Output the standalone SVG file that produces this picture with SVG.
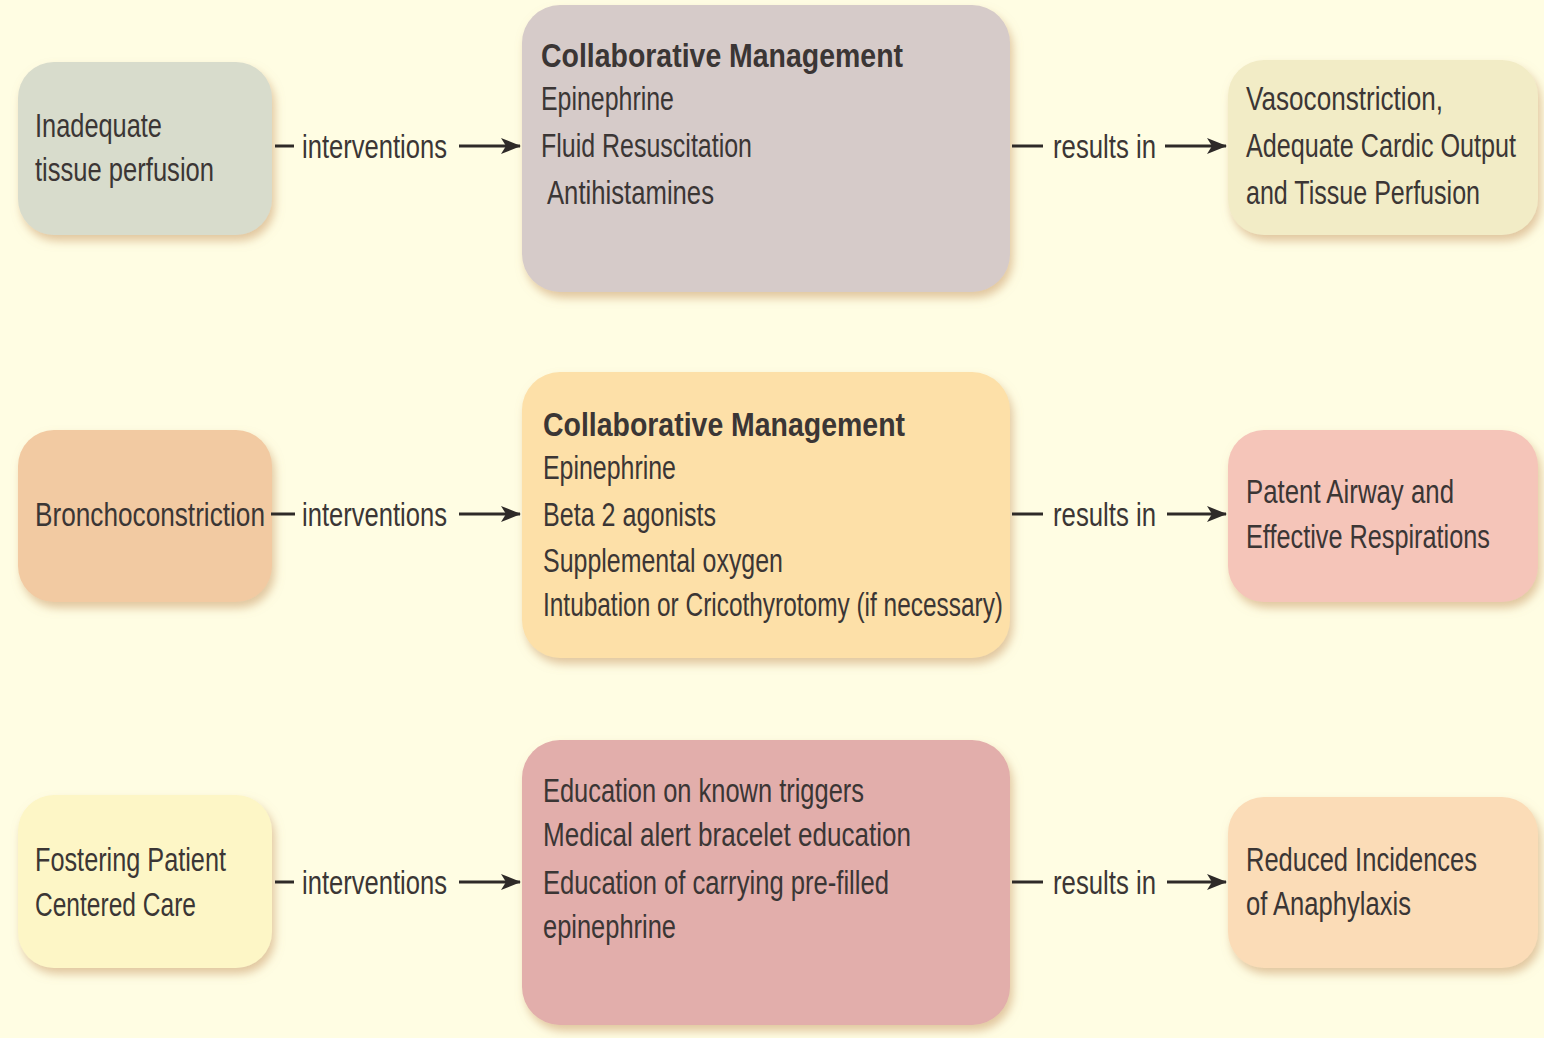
<svg xmlns="http://www.w3.org/2000/svg" width="1544" height="1038" viewBox="0 0 1544 1038">
<defs>
<style>
text{font-family:"Liberation Sans",Arial,sans-serif;font-size:33px;fill:#3b3635;}
.b{font-weight:bold;}
.box{filter:url(#sh);}
.ln{stroke:#2e2a28;stroke-width:3;fill:none;}
</style>
<filter id="sh" x="-10%" y="-10%" width="125%" height="130%">
<feDropShadow dx="3" dy="6" stdDeviation="5" flood-color="#c89a66" flood-opacity="0.55"/>
</filter>
<marker id="ah" viewBox="0 0 20 16" refX="19" refY="8" markerWidth="20" markerHeight="16" markerUnits="userSpaceOnUse" orient="auto">
<path d="M0,0 L20,8 L0,16 L5,8 Z" fill="#2e2a28"/>
</marker>
</defs>
<rect width="1544" height="1038" fill="#fffde3"/>

<g id="n1">
<rect class="box" x="18" y="62" width="254" height="173" rx="36" fill="#d8dccc"/>
<g transform="scale(0.8 1)">
<text x="43.75" y="137" textLength="158.75" lengthAdjust="spacingAndGlyphs">Inadequate</text>
<text x="43.75" y="181" textLength="223.75" lengthAdjust="spacingAndGlyphs">tissue perfusion</text>
</g>
</g>
<g id="m1">
<rect class="box" x="522" y="5" width="488" height="287" rx="38" fill="#d6cbc9"/>
<g transform="scale(0.8 1)">
<text class="b" x="676.25" y="67" textLength="452.5" lengthAdjust="spacingAndGlyphs">Collaborative Management</text>
<text x="676.25" y="110" textLength="166.25" lengthAdjust="spacingAndGlyphs">Epinephrine</text>
<text x="676.25" y="157" textLength="263.75" lengthAdjust="spacingAndGlyphs">Fluid Resuscitation</text>
<text x="683.75" y="204" textLength="208.75" lengthAdjust="spacingAndGlyphs">Antihistamines</text>
</g>
</g>
<g id="r1">
<rect class="box" x="1228" y="60" width="310" height="175" rx="36" fill="#f2ecc6"/>
<g transform="scale(0.8 1)">
<text x="1557.5" y="110" textLength="246.25" lengthAdjust="spacingAndGlyphs">Vasoconstriction,</text>
<text x="1557.5" y="157" textLength="337.5" lengthAdjust="spacingAndGlyphs">Adequate Cardic Output</text>
<text x="1557.5" y="204" textLength="292.5" lengthAdjust="spacingAndGlyphs">and Tissue Perfusion</text>
</g>
</g>

<g id="n2">
<rect class="box" x="18" y="430" width="254" height="172" rx="36" fill="#f2caa2"/>
<g transform="scale(0.8 1)">
<text x="43.75" y="526" textLength="287.5" lengthAdjust="spacingAndGlyphs">Bronchoconstriction</text>
</g>
</g>
<g id="m2">
<rect class="box" x="522" y="372" width="488" height="286" rx="38" fill="#fde0a8"/>
<g transform="scale(0.8 1)">
<text class="b" x="678.75" y="436" textLength="452.5" lengthAdjust="spacingAndGlyphs">Collaborative Management</text>
<text x="678.75" y="479" textLength="166.25" lengthAdjust="spacingAndGlyphs">Epinephrine</text>
<text x="678.75" y="526" textLength="216.25" lengthAdjust="spacingAndGlyphs">Beta 2 agonists</text>
<text x="678.75" y="572" textLength="300" lengthAdjust="spacingAndGlyphs">Supplemental oxygen</text>
<text x="678.75" y="616" textLength="575" lengthAdjust="spacingAndGlyphs">Intubation or Cricothyrotomy (if necessary)</text>
</g>
</g>
<g id="r2">
<rect class="box" x="1228" y="430" width="310" height="172" rx="36" fill="#f5c5b9"/>
<g transform="scale(0.8 1)">
<text x="1557.5" y="503" textLength="260" lengthAdjust="spacingAndGlyphs">Patent Airway and</text>
<text x="1557.5" y="548" textLength="305" lengthAdjust="spacingAndGlyphs">Effective Respirations</text>
</g>
</g>

<g id="n3">
<rect class="box" x="18" y="795" width="254" height="173" rx="36" fill="#fdf6c6"/>
<g transform="scale(0.8 1)">
<text x="43.75" y="871" textLength="238.75" lengthAdjust="spacingAndGlyphs">Fostering Patient</text>
<text x="43.75" y="916" textLength="201.25" lengthAdjust="spacingAndGlyphs">Centered Care</text>
</g>
</g>
<g id="m3">
<rect class="box" x="522" y="740" width="488" height="285" rx="38" fill="#e2aeab"/>
<g transform="scale(0.8 1)">
<text x="678.75" y="802" textLength="401.25" lengthAdjust="spacingAndGlyphs">Education on known triggers</text>
<text x="678.75" y="846" textLength="460" lengthAdjust="spacingAndGlyphs">Medical alert bracelet education</text>
<text x="678.75" y="894" textLength="432.5" lengthAdjust="spacingAndGlyphs">Education of carrying pre-filled</text>
<text x="678.75" y="938" textLength="166.25" lengthAdjust="spacingAndGlyphs">epinephrine</text>
</g>
</g>
<g id="r3">
<rect class="box" x="1228" y="797" width="310" height="171" rx="36" fill="#fbdcb7"/>
<g transform="scale(0.8 1)">
<text x="1557.5" y="871" textLength="288.75" lengthAdjust="spacingAndGlyphs">Reduced Incidences</text>
<text x="1557.5" y="915" textLength="206.25" lengthAdjust="spacingAndGlyphs">of Anaphylaxis</text>
</g>
</g>

<g id="connectors">
<line class="ln" x1="275" y1="146" x2="294" y2="146"/>
<line class="ln" x1="459" y1="146" x2="520" y2="146" marker-end="url(#ah)"/>
<line class="ln" x1="1012" y1="146" x2="1043" y2="146"/>
<line class="ln" x1="1165" y1="146" x2="1226" y2="146" marker-end="url(#ah)"/>

<line class="ln" x1="271" y1="514" x2="295" y2="514"/>
<line class="ln" x1="459" y1="514" x2="520" y2="514" marker-end="url(#ah)"/>
<line class="ln" x1="1012" y1="514" x2="1043" y2="514"/>
<line class="ln" x1="1167" y1="514" x2="1226" y2="514" marker-end="url(#ah)"/>

<line class="ln" x1="275" y1="882" x2="294" y2="882"/>
<line class="ln" x1="459" y1="882" x2="520" y2="882" marker-end="url(#ah)"/>
<line class="ln" x1="1012" y1="882" x2="1043" y2="882"/>
<line class="ln" x1="1167" y1="882" x2="1226" y2="882" marker-end="url(#ah)"/>

<g transform="scale(0.8 1)">
<text x="377.5" y="158" textLength="181.25" lengthAdjust="spacingAndGlyphs">interventions</text>
<text x="1316.25" y="158" textLength="128.75" lengthAdjust="spacingAndGlyphs">results in</text>
<text x="377.5" y="526" textLength="181.25" lengthAdjust="spacingAndGlyphs">interventions</text>
<text x="1316.25" y="526" textLength="128.75" lengthAdjust="spacingAndGlyphs">results in</text>
<text x="377.5" y="894" textLength="181.25" lengthAdjust="spacingAndGlyphs">interventions</text>
<text x="1316.25" y="894" textLength="128.75" lengthAdjust="spacingAndGlyphs">results in</text>
</g>
</g>
</svg>
